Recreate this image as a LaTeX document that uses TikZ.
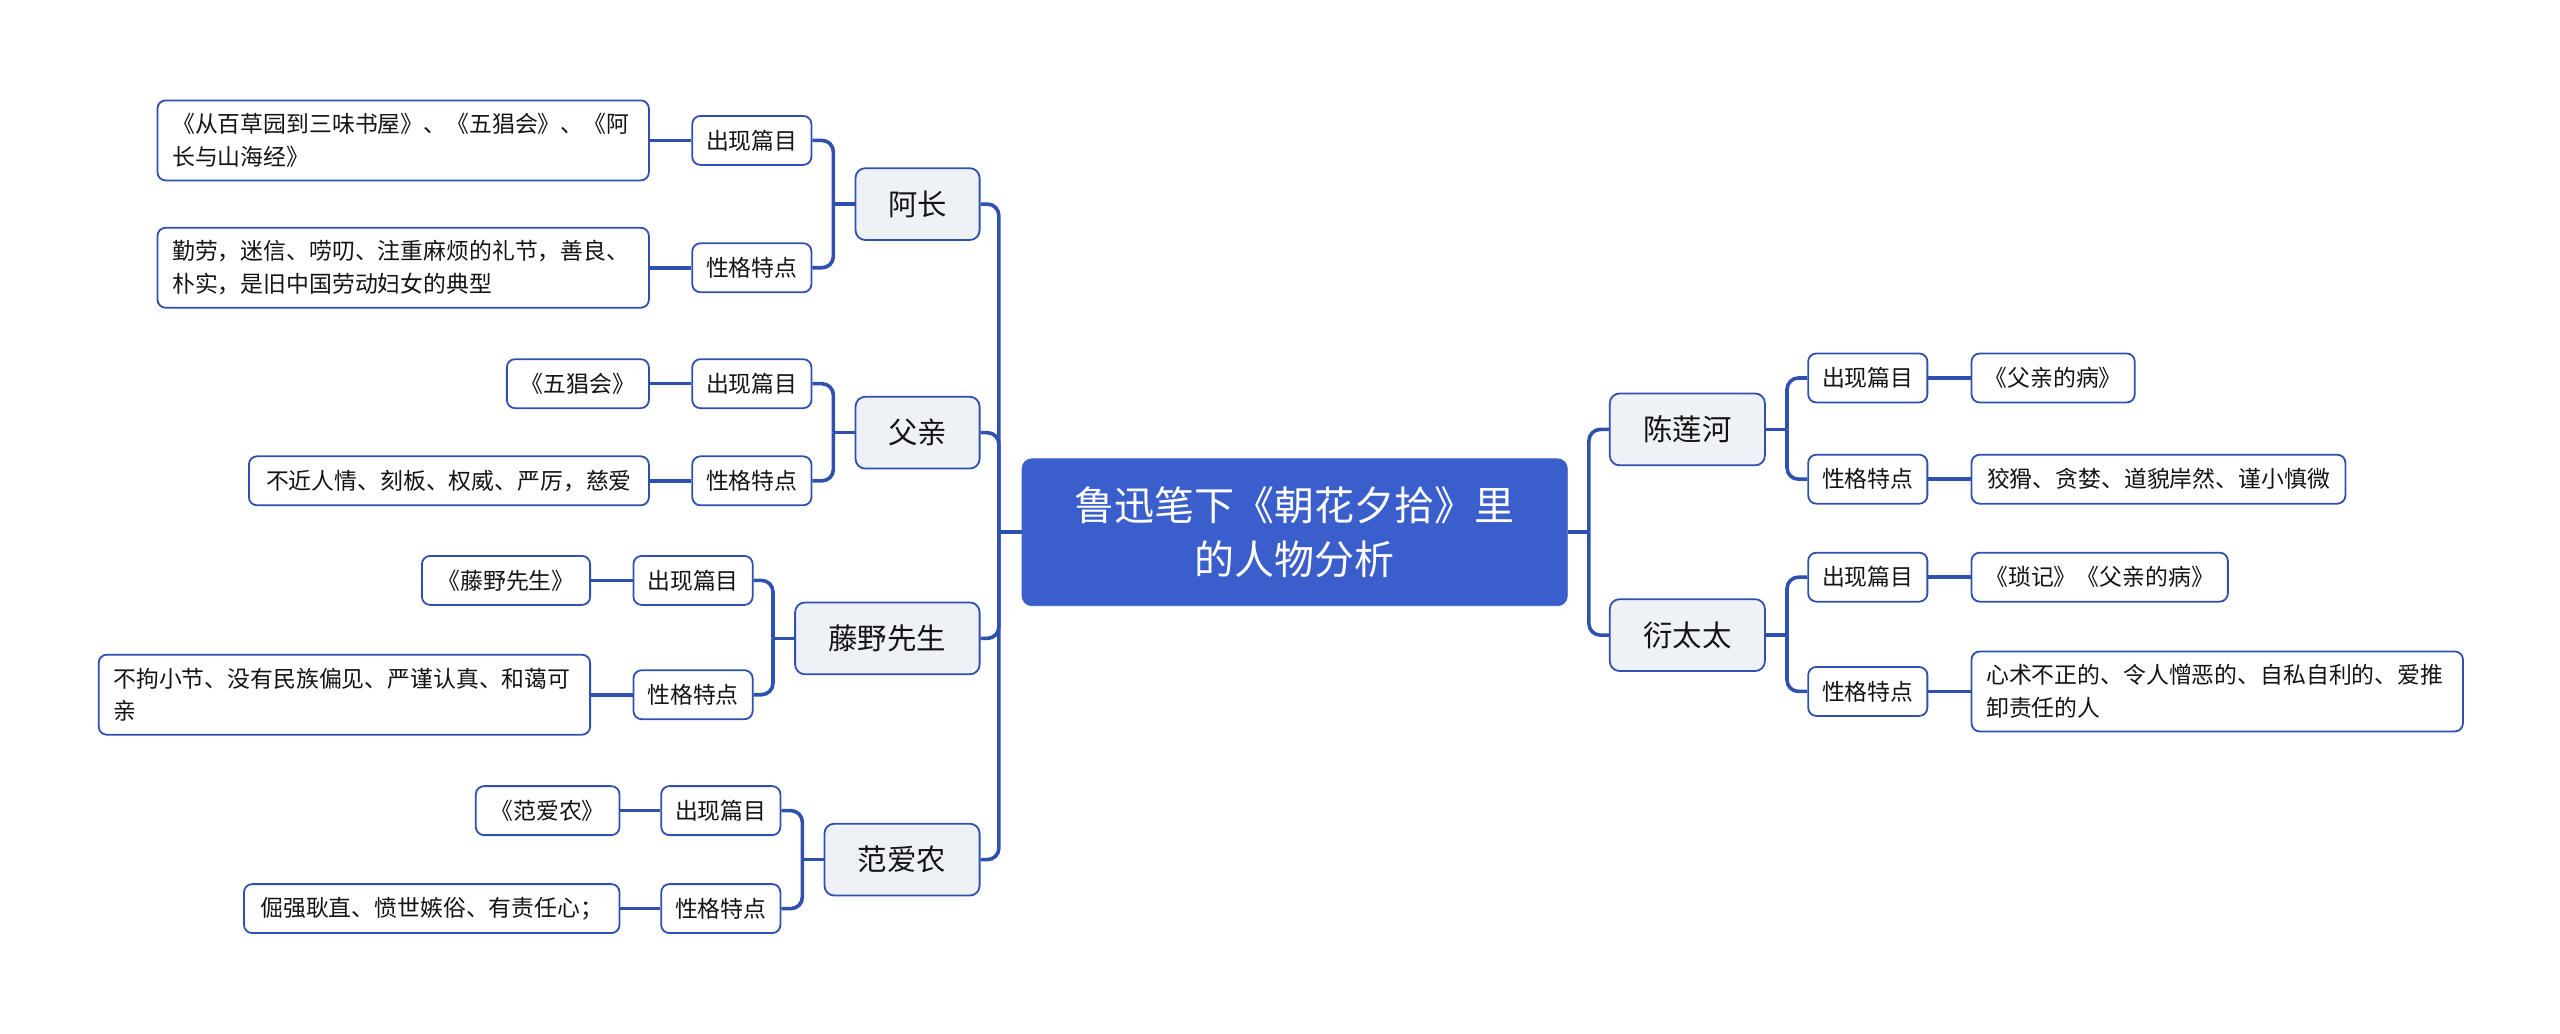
\documentclass[tikz,border=0pt]{standalone}
\usepackage{fontspec}
\setmainfont{Noto Sans CJK SC}
\usetikzlibrary{calc}
\definecolor{lineblue}{RGB}{47,80,175}
\definecolor{rootblue}{RGB}{58,94,204}
\definecolor{mainfill}{RGB}{238,242,247}
\definecolor{txt}{RGB}{20,20,20}
\begin{document}
\begin{tikzpicture}[x=1pt,y=-1pt,
  box/.style={draw=lineblue, line width=1.1pt, rounded corners=5pt, fill=white, text=txt, inner sep=0pt, font=\fontsize{14}{20}\selectfont},
  cat/.style={box, minimum width=73pt, minimum height=30pt},
  leaf/.style={box, minimum height=30pt},
  leaftwo/.style={box, minimum height=49pt, text width=283pt, inner xsep=9pt, align=left},
  mainnode/.style={draw=lineblue, line width=1.1pt, rounded corners=6pt, fill=mainfill, text=txt, inner sep=0pt, minimum height=44pt, font=\fontsize{18}{22}\selectfont},
  rootnode/.style={draw=rootblue, rounded corners=6pt, fill=rootblue, text=white, inner sep=0pt, minimum width=334pt, minimum height=90pt, align=center, font=\fontsize{24.5}{33}\selectfont},
  conn/.style={draw=lineblue, line width=2.2pt},
  elbow/.style={conn, rounded corners=7pt}
]
\useasboundingbox (0,0) rectangle (1568,633);

% root
\node[rootnode] (root) at (793,326) {鲁迅笔下《朝花夕拾》里\\的人物分析};

% main nodes
\node[mainnode, minimum width=76pt] (achang) at (562,125) {阿长};
\node[mainnode, minimum width=76pt] (fuqin) at (562,265) {父亲};
\node[mainnode, minimum width=113pt] (tengye) at (543.5,391) {藤野先生};
\node[mainnode, minimum width=95pt] (fan) at (552.5,526.5) {范爱农};
\node[mainnode, minimum width=95pt] (chen) at (1033.5,263) {陈莲河};
\node[mainnode, minimum width=95pt] (yan) at (1033.5,389) {衍太太};

% category nodes
\node[cat] (a1) at (460.5,86) {出现篇目};
\node[cat] (a2) at (460.5,164) {性格特点};
\node[cat] (f1) at (460.5,235) {出现篇目};
\node[cat] (f2) at (460.5,294.5) {性格特点};
\node[cat] (t1) at (424.5,355.5) {出现篇目};
\node[cat] (t2) at (424.5,425.5) {性格特点};
\node[cat] (n1) at (441.5,496.5) {出现篇目};
\node[cat] (n2) at (441.5,556.5) {性格特点};
\node[cat] (c1) at (1144,231.5) {出现篇目};
\node[cat] (c2) at (1144,293.5) {性格特点};
\node[cat] (y1) at (1144,353.5) {出现篇目};
\node[cat] (y2) at (1144,423.5) {性格特点};

% leaves
\node[leaftwo, anchor=east] (a1l) at (398,86) {《从百草园到三味书屋》、《五猖会》、《阿\\长与山海经》};
\node[leaftwo, anchor=east] (a2l) at (398,164) {勤劳，迷信、唠叨、注重麻烦的礼节，善良、\\朴实，是旧中国劳动妇女的典型};
\node[leaf, anchor=east, minimum width=87pt] (f1l) at (398,235) {《五猖会》};
\node[leaf, anchor=east, minimum width=245pt] (f2l) at (398,294.5) {不近人情、刻板、权威、严厉，慈爱};
\node[leaf, anchor=east, minimum width=103pt] (t1l) at (362,355.5) {《藤野先生》};
\node[leaftwo, anchor=east] (t2l) at (362,425.5) {不拘小节、没有民族偏见、严谨认真、和蔼可\\亲};
\node[leaf, anchor=east, minimum width=88pt] (n1l) at (380,496.5) {《范爱农》};
\node[leaf, anchor=east, minimum width=230pt] (n2l) at (380,556.5) {倔强耿直、愤世嫉俗、有责任心；};
\node[leaf, anchor=west, minimum width=100pt] (c1l) at (1207,231.5) {《父亲的病》};
\node[leaf, anchor=west, minimum width=229pt] (c2l) at (1207,293.5) {狡猾、贪婪、道貌岸然、谨小慎微};
\node[leaf, anchor=west, minimum width=157pt] (y1l) at (1207,353.5) {《琐记》《父亲的病》};
\node[leaftwo, anchor=west] (y2l) at (1207,423.5) {心术不正的、令人憎恶的、自私自利的、爱推\\卸责任的人};

% level 1 connectors
\coordinate (jl) at ($(root.west)+(-14,0)$);
\coordinate (jr) at ($(root.east)+(13,0)$);
\draw[conn] (root.west) -- (jl);
\draw[conn] (root.east) -- (jr);
\foreach \c in {achang,fuqin,tengye,fan} \draw[elbow] (jl) |- (\c.east);
\foreach \c in {chen,yan} \draw[elbow] (jr) |- (\c.west);

% level 2 connectors
\foreach \p/\u/\v in {achang/a1/a2, fuqin/f1/f2, tengye/t1/t2, fan/n1/n2} {
  \coordinate (j\p) at ($(\p.west)+(-13,0)$);
  \draw[conn] (\p.west) -- (j\p);
  \draw[elbow] (j\p) |- (\u.east);
  \draw[elbow] (j\p) |- (\v.east);
}
\foreach \p/\u/\v in {chen/c1/c2, yan/y1/y2} {
  \coordinate (j\p) at ($(\p.east)+(13,0)$);
  \draw[conn] (\p.east) -- (j\p);
  \draw[elbow] (j\p) |- (\u.west);
  \draw[elbow] (j\p) |- (\v.west);
}

% level 3 connectors
\foreach \u in {a1,a2,f1,f2,t1,t2,n1,n2} \draw[conn] (\u.west) -- (\u l.east);
\foreach \u in {c1,c2,y1,y2} \draw[conn] (\u.east) -- (\u l.west);
\end{tikzpicture}
\end{document}
